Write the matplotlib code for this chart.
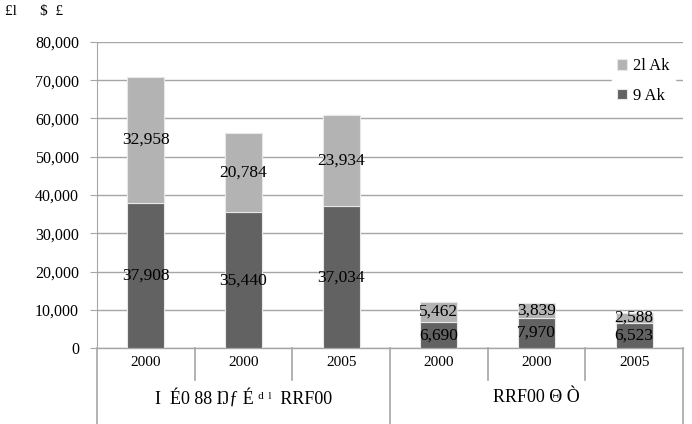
import matplotlib
matplotlib.use("Agg")
import matplotlib.pyplot as plt
from matplotlib.transforms import blended_transform_factory

# ---- data ----
years = ["2000", "2000", "2005", "2000", "2000", "2005"]
groups = ["I  É0 88 Ŋƒ É ᵈ ˡ  RRF00", "RRF00 Θ Ò"]
series_names = ["2l Ak", "9 Ak"]          # legend (top = light, bottom = dark)
dark_vals = [37908, 35440, 37034, 6690, 7970, 6523]
light_vals = [32958, 20784, 23934, 5462, 3839, 2588]
yticks = [0, 10000, 20000, 30000, 40000, 50000, 60000, 70000, 80000]
unit_label = "£l      $  £"

DARK = "#626262"
LIGHT = "#b3b3b3"
GRID = "#a6a6a6"
serif = ["Liberation Serif", "DejaVu Serif"]

fig = plt.figure(figsize=(6.92, 4.24), dpi=100)
ax = fig.add_axes([97 / 692, (424 - 348) / 424, (683 - 97) / 692, (348 - 42) / 424])

x = list(range(len(years)))
b1 = ax.bar(x, dark_vals, width=0.38, color=DARK, edgecolor="#e8e8e8", linewidth=0.8,
            label=series_names[1], zorder=3)
b2 = ax.bar(x, light_vals, width=0.38, bottom=dark_vals, color=LIGHT, edgecolor="#e8e8e8",
            linewidth=0.8, label=series_names[0], zorder=3)

ax.bar_label(b1, labels=[f"{v:,}" for v in dark_vals], label_type="center",
             fontsize=12.5, family=serif, color="black", zorder=5)
ax.bar_label(b2, labels=[f"{v:,}" for v in light_vals], label_type="center",
             fontsize=12.5, family=serif, color="black", zorder=5)

ax.set_xlim(-0.5, 5.5)
ax.set_ylim(0, 80000)
ax.set_yticks(yticks)
ax.set_yticklabels([f"{v:,}" for v in yticks], family=serif, fontsize=11.5)
ax.yaxis.grid(True, color=GRID, linewidth=1, zorder=0)
ax.set_xticks([])
for s in ["top", "right", "bottom"]:
    ax.spines[s].set_visible(False)
ax.spines["left"].set_color(GRID)
ax.tick_params(axis="y", length=5, color=GRID, pad=8)

# category table below the axis
trans = blended_transform_factory(ax.transData, ax.transAxes)
short = -(380 - 348) / 306
long_ = -(424 - 348) / 306
ax.plot([-0.5, 5.5], [0, 0], color=GRID, lw=1, transform=trans, clip_on=False)
for b in [-0.5, 0.5, 1.5, 2.5, 3.5, 4.5, 5.5]:
    y0 = long_ if b in (-0.5, 2.5, 5.5) else short
    ax.plot([b, b], [0, y0], color=GRID, lw=1.2, transform=trans, clip_on=False)
for i, yr in enumerate(years):
    ax.text(i, -(363 - 348) / 306, yr, transform=trans, ha="center", va="center",
            fontsize=11, family=serif)
ax.text(1, -(398 - 348) / 306, groups[0], transform=trans, ha="center", va="center",
        fontsize=13, family=serif)
ax.text(4, -(398 - 348) / 306, groups[1], transform=trans, ha="center", va="center",
        fontsize=13, family=serif)

fig.text(5 / 692, 1 - 12 / 424, unit_label, fontsize=11, family=serif, va="center")

h, l = ax.get_legend_handles_labels()
leg = ax.legend(h[::-1], l[::-1], loc="upper right", bbox_to_anchor=(1.0, 0.99),
                frameon=True, prop={"family": serif, "size": 12},
                handlelength=0.6, handleheight=0.6, handletextpad=0.4,
                labelspacing=0.8, borderpad=0.3)
leg.get_frame().set_edgecolor("white")
leg.get_frame().set_facecolor("white")
leg.get_frame().set_alpha(1)

fig.savefig("out.png", dpi=100)
